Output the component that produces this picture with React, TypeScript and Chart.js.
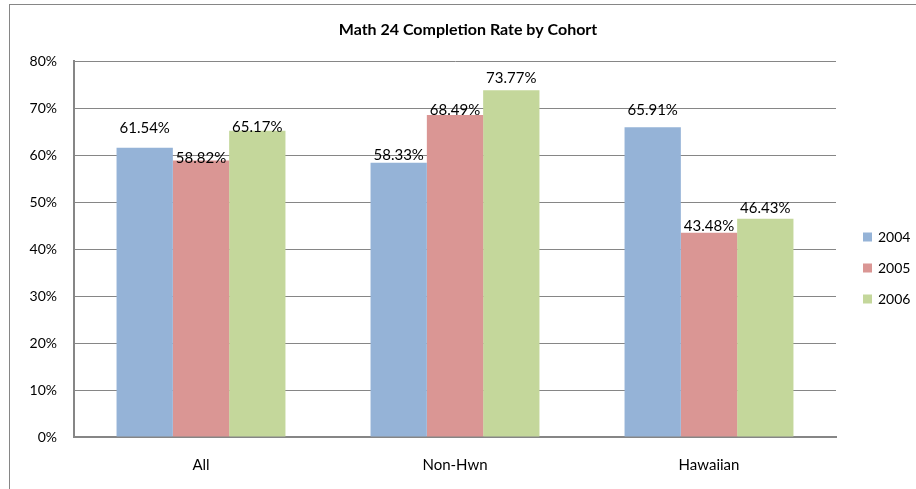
import React, { useEffect, useRef } from "react";
import { Chart, registerables } from "chart.js";

Chart.register(...registerables);

const categories = ["All", "Non-Hwn", "Hawaiian"];
const seriesNames = ["2004", "2005", "2006"];
const values2004 = [61.54, 58.33, 65.91];
const values2005 = [58.82, 68.49, 43.48];
const values2006 = [65.17, 73.77, 46.43];
const yTicks = [0, 10, 20, 30, 40, 50, 60, 70, 80];
// label lift above bar top (px), per series, per category
const lift2004 = [20, 8, 17];
const lift2005 = [2, 5, 6];
const lift2006 = [4, 12, 11];

const colors = ["#95B3D7", "#DA9694", "#C4D79B"];
const FONT = "Lato, 'Open Sans', sans-serif";
const GRID = "#868686";

export default function App() {
  const ref = useRef<HTMLCanvasElement>(null);
  useEffect(() => {
    document.body.style.margin = "0";
    const lifts = [lift2004, lift2005, lift2006];
    const framePlugin = {
      id: "frame",
      beforeDraw(chart: any) {
        const ctx = chart.ctx;
        ctx.save();
        ctx.fillStyle = "#ffffff";
        ctx.fillRect(0, 0, chart.width, chart.height);
        ctx.strokeStyle = GRID;
        ctx.lineWidth = 1;
        ctx.strokeRect(9.5, 4.5, chart.width + 50, chart.height + 50);
        ctx.restore();
      },
      afterDraw(chart: any) {
        const ctx = chart.ctx;
        const area = chart.chartArea;
        ctx.save();
        // title
        ctx.fillStyle = "#000";
        ctx.font = `bold 16px ${FONT}`;
        ctx.textAlign = "center";
        ctx.textBaseline = "middle";
        ctx.fillText("Math 24 Completion Rate by Cohort", 468, 30);
        // data labels
        ctx.font = `15px ${FONT}`;
        chart.data.datasets.forEach((ds: any, di: number) => {
          const meta = chart.getDatasetMeta(di);
          meta.data.forEach((bar: any, i: number) => {
            const v = ds.data[i] as number;
            ctx.fillText(v.toFixed(2) + "%", bar.x, bar.y - lifts[di][i]);
          });
        });
        // legend
        ctx.font = `14px ${FONT}`;
        const lx = area.right + 27;
        const cy = (area.top + area.bottom) / 2 + 19;
        ctx.textAlign = "left";
        chart.data.datasets.forEach((ds: any, di: number) => {
          const y = cy + (di - 1) * 31;
          ctx.fillStyle = ds.backgroundColor;
          ctx.fillRect(lx, y - 4.5, 9, 9);
          ctx.fillStyle = "#000";
          ctx.fillText(ds.label, lx + 15, y);
        });
        ctx.restore();
      },
    };
    const chart = new Chart(ref.current!, {
      type: "bar",
      data: {
        labels: categories,
        datasets: [values2004, values2005, values2006].map((d, i) => ({
          label: seriesNames[i],
          data: d,
          backgroundColor: colors[i],
          borderWidth: 0,
        })),
      },
      options: {
        animation: false,
        responsive: false,
        layout: { padding: { left: 0, top: 61, right: 80, bottom: 0 } },
        datasets: { bar: { categoryPercentage: 0.665, barPercentage: 1 } },
        plugins: { legend: { display: false }, title: { display: false }, tooltip: { enabled: false } },
        scales: {
          x: {
            grid: { display: false, drawTicks: false },
            border: { display: true, color: GRID, width: 2 },
            ticks: { color: "#000", font: { family: FONT, size: 15 }, padding: 19 },
            afterFit: (s: any) => { s.height = 52; },
          },
          y: {
            min: 0,
            max: 80,
            afterBuildTicks: (s: any) => { s.ticks = yTicks.map((v) => ({ value: v })); },
            grid: { color: GRID, lineWidth: 1, drawTicks: false },
            border: { display: true, color: GRID, width: 2 },
            ticks: {
              color: "#000",
              font: { family: FONT, size: 14 },
              padding: 17,
              callback: (v: any) => v + "%",
            },
            afterFit: (s: any) => { s.width = 74; },
          },
        },
      },
      plugins: [framePlugin],
    });
    return () => chart.destroy();
  }, []);
  return <canvas ref={ref} width={916} height={489} style={{ display: "block", width: 916, height: 489 }} />;
}
